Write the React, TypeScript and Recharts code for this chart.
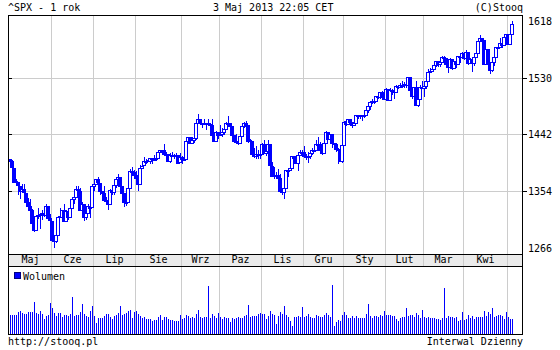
import { Bar, BarChart, CartesianGrid, ComposedChart, XAxis, YAxis } from "recharts";

// ^SPX daily candles, 2 May 2012 .. 3 May 2013 (one row per month)
const OPEN = [
  1405, 1402, 1391, 1368, 1369, 1363, 1355, 1358, 1351, 1338, 1331, 1325, 1306, 1295, 1316, 1317, 1319, 1321, 1318, 1331, 1313,
  1309, 1278, 1277, 1286, 1316, 1314, 1326, 1309, 1324, 1315, 1329, 1342, 1345, 1358, 1355, 1326, 1334, 1314, 1320, 1331, 1330,
  1362, 1366, 1374, 1367, 1355, 1352, 1341, 1341, 1335, 1357, 1354, 1364, 1373, 1376, 1363, 1351, 1338, 1338, 1360, 1386, 1385,
  1380, 1375, 1366, 1391, 1395, 1401, 1402, 1402, 1406, 1404, 1404, 1406, 1416, 1418, 1418, 1413, 1413, 1402, 1411, 1410, 1409, 1410, 1400,
  1407, 1405, 1404, 1432, 1438, 1429, 1434, 1437, 1460, 1466, 1461, 1459, 1461, 1461, 1459, 1457, 1442, 1433, 1447,
  1441, 1444, 1446, 1451, 1461, 1461, 1456, 1441, 1433, 1433, 1429, 1440, 1455, 1461, 1457, 1433, 1433, 1413, 1409, 1413, 1410,
  1412, 1428, 1414, 1417, 1428, 1394, 1378, 1380, 1380, 1375, 1355, 1353, 1360, 1387, 1388, 1391, 1409, 1406, 1399, 1410, 1416,
  1416, 1409, 1407, 1409, 1414, 1418, 1419, 1428, 1428, 1419, 1414, 1430, 1447, 1436, 1444, 1430, 1427, 1420, 1418, 1402,
  1426, 1463, 1459, 1466, 1462, 1457, 1461, 1472, 1472, 1471, 1472, 1473, 1481, 1486, 1493, 1495, 1495, 1503, 1500, 1508, 1502,
  1498, 1513, 1496, 1511, 1512, 1509, 1518, 1517, 1519, 1520, 1521, 1520, 1531, 1512, 1502, 1516, 1488, 1497, 1516,
  1515, 1518, 1525, 1540, 1541, 1544, 1551, 1556, 1552, 1555, 1563, 1561, 1552, 1548, 1559, 1546, 1557, 1552, 1564, 1563,
  1569, 1562, 1570, 1554, 1560, 1553, 1563, 1569, 1588, 1593, 1589, 1552, 1575, 1552, 1542, 1555, 1563, 1579, 1579, 1585, 1582, 1594,
  1598, 1583, 1598,
];
const HIGH = [
  1405, 1403, 1391, 1374, 1369, 1363, 1365, 1366, 1351, 1344, 1343, 1327, 1312, 1316, 1328, 1320, 1325, 1324, 1335, 1331, 1319,
  1309, 1282, 1287, 1316, 1329, 1326, 1335, 1325, 1327, 1333, 1343, 1348, 1363, 1362, 1359, 1337, 1334, 1324, 1334, 1331, 1362,
  1367, 1374, 1376, 1367, 1355, 1362, 1346, 1341, 1358, 1357, 1366, 1375, 1381, 1376, 1363, 1352, 1344, 1364, 1389, 1392, 1387,
  1386, 1375, 1395, 1399, 1408, 1404, 1406, 1406, 1406, 1411, 1407, 1417, 1419, 1418, 1427, 1416, 1413, 1414, 1416, 1413, 1414, 1410, 1414,
  1409, 1409, 1433, 1438, 1438, 1438, 1438, 1464, 1475, 1466, 1461, 1466, 1461, 1467, 1460, 1466, 1442, 1448, 1447,
  1458, 1452, 1454, 1462, 1471, 1461, 1456, 1442, 1444, 1439, 1441, 1456, 1462, 1464, 1457, 1435, 1433, 1421, 1425, 1418, 1418,
  1429, 1434, 1420, 1434, 1428, 1400, 1392, 1385, 1389, 1381, 1360, 1363, 1387, 1390, 1392, 1409, 1409, 1409, 1410, 1419, 1419,
  1424, 1413, 1415, 1414, 1421, 1421, 1434, 1439, 1431, 1419, 1431, 1448, 1447, 1444, 1444, 1430, 1429, 1422, 1418, 1426,
  1463, 1465, 1467, 1466, 1462, 1465, 1472, 1473, 1472, 1473, 1474, 1484, 1486, 1493, 1497, 1502, 1503, 1504, 1509, 1510, 1504,
  1514, 1513, 1514, 1513, 1512, 1519, 1518, 1522, 1525, 1524, 1525, 1531, 1531, 1512, 1516, 1525, 1499, 1520, 1525,
  1520, 1525, 1544, 1545, 1546, 1553, 1557, 1556, 1556, 1564, 1564, 1561, 1558, 1561, 1559, 1557, 1564, 1564, 1564, 1570,
  1570, 1573, 1571, 1562, 1560, 1563, 1573, 1589, 1597, 1593, 1589, 1575, 1575, 1554, 1556, 1565, 1579, 1584, 1592, 1585, 1596, 1598,
  1598, 1598, 1618,
];
const LOW = [
  1394, 1389, 1367, 1363, 1348, 1343, 1355, 1352, 1336, 1328, 1324, 1305, 1291, 1295, 1311, 1296, 1310, 1315, 1318, 1310, 1298,
  1277, 1267, 1274, 1286, 1314, 1307, 1307, 1307, 1310, 1313, 1329, 1335, 1345, 1345, 1324, 1325, 1309, 1310, 1320, 1313, 1330,
  1355, 1364, 1364, 1348, 1346, 1338, 1334, 1326, 1335, 1349, 1348, 1359, 1371, 1362, 1338, 1330, 1332, 1338, 1360, 1381, 1379,
  1373, 1355, 1366, 1391, 1395, 1396, 1401, 1397, 1397, 1401, 1402, 1404, 1414, 1413, 1410, 1406, 1400, 1398, 1409, 1404, 1406, 1397, 1398,
  1397, 1401, 1404, 1430, 1429, 1429, 1430, 1434, 1460, 1457, 1453, 1458, 1450, 1459, 1452, 1441, 1431, 1433, 1436,
  1441, 1438, 1441, 1451, 1458, 1451, 1441, 1430, 1432, 1426, 1427, 1440, 1453, 1452, 1430, 1422, 1408, 1406, 1405, 1404, 1405,
  1412, 1414, 1409, 1417, 1388, 1377, 1374, 1378, 1371, 1353, 1348, 1343, 1360, 1377, 1387, 1391, 1398, 1398, 1386, 1410, 1412,
  1409, 1403, 1399, 1404, 1411, 1415, 1419, 1425, 1416, 1411, 1414, 1430, 1435, 1433, 1422, 1425, 1415, 1396, 1401, 1398,
  1426, 1456, 1458, 1456, 1452, 1457, 1461, 1467, 1466, 1464, 1468, 1473, 1476, 1480, 1490, 1490, 1495, 1497, 1498, 1500, 1496,
  1498, 1495, 1496, 1504, 1498, 1509, 1513, 1515, 1515, 1514, 1514, 1520, 1512, 1498, 1502, 1488, 1485, 1497, 1514,
  1501, 1513, 1525, 1539, 1540, 1544, 1548, 1547, 1548, 1555, 1557, 1545, 1538, 1548, 1543, 1546, 1546, 1552, 1553, 1562,
  1558, 1562, 1550, 1552, 1539, 1549, 1561, 1569, 1586, 1580, 1552, 1552, 1543, 1537, 1540, 1549, 1563, 1575, 1579, 1576, 1582, 1587,
  1581, 1583, 1598,
];
const CLOSE = [
  1402, 1392, 1369, 1370, 1364, 1355, 1358, 1353, 1338, 1331, 1325, 1305, 1295, 1316, 1317, 1319, 1321, 1318, 1332, 1313, 1310,
  1278, 1278, 1286, 1315, 1315, 1326, 1309, 1324, 1315, 1329, 1343, 1345, 1358, 1356, 1326, 1335, 1314, 1320, 1332, 1329, 1362,
  1366, 1374, 1368, 1355, 1352, 1341, 1341, 1335, 1357, 1354, 1364, 1373, 1377, 1363, 1351, 1338, 1338, 1360, 1386, 1385, 1379,
  1375, 1365, 1391, 1394, 1401, 1402, 1403, 1406, 1404, 1404, 1406, 1416, 1418, 1418, 1413, 1413, 1402, 1411, 1410, 1409, 1410, 1399, 1407,
  1405, 1403, 1432, 1438, 1429, 1434, 1437, 1460, 1466, 1461, 1459, 1461, 1460, 1460, 1457, 1442, 1433, 1447, 1441,
  1444, 1446, 1451, 1461, 1461, 1456, 1441, 1433, 1433, 1429, 1440, 1455, 1461, 1457, 1433, 1434, 1413, 1409, 1413, 1412, 1412,
  1428, 1414, 1417, 1428, 1395, 1378, 1380, 1380, 1375, 1355, 1353, 1360, 1387, 1388, 1391, 1409, 1406, 1399, 1410, 1416, 1416,
  1409, 1407, 1409, 1414, 1418, 1419, 1428, 1428, 1419, 1414, 1430, 1447, 1436, 1444, 1430, 1427, 1420, 1418, 1402, 1426,
  1462, 1459, 1466, 1462, 1457, 1461, 1472, 1472, 1471, 1472, 1473, 1481, 1486, 1493, 1495, 1495, 1503, 1500, 1508, 1502, 1498,
  1513, 1496, 1511, 1512, 1509, 1518, 1517, 1519, 1520, 1521, 1520, 1531, 1512, 1502, 1516, 1488, 1497, 1516, 1515,
  1518, 1525, 1540, 1541, 1544, 1551, 1556, 1552, 1555, 1563, 1561, 1552, 1548, 1559, 1546, 1557, 1552, 1564, 1563, 1569,
  1562, 1570, 1554, 1560, 1553, 1563, 1569, 1588, 1593, 1589, 1552, 1575, 1552, 1542, 1555, 1563, 1579, 1579, 1585, 1582, 1594, 1598,
  1583, 1598, 1614,
];
// volume, mln
const VOLUME = [
  570, 570, 570, 570, 660, 690, 630, 600, 600, 660, 660,
  660, 960, 630, 600, 690, 600, 450, 540, 570, 930,
  780, 630, 540, 630, 630, 510, 570, 570, 540, 600,
  1110, 540, 570, 570, 660, 900, 600, 540, 510, 690,
  840, 540, 330, 480, 480, 480, 540, 600, 600, 510,
  450, 540, 570, 630, 840, 570, 600, 630, 690, 720,
  480, 660, 690, 600, 540, 480, 510, 450, 450, 450,
  390, 420, 420, 510, 570, 420, 510, 510, 450, 420,
  420, 390, 390, 390, 570, 450, 480, 570, 540, 480,
  510, 480, 600, 720, 510, 480, 510, 510, 1440, 480,
  600, 540, 480, 630, 510, 450, 510, 480, 480, 360,
  480, 450, 480, 510, 480, 480, 540, 570, 870, 510,
  540, 540, 540, 600, 630, 600, 600,
  450, 540, 690, 600, 570, 300, 540, 660, 600, 840,
  570, 510, 390, 240, 510, 510, 540, 510, 810, 510,
  540, 600, 510, 480, 480, 570, 540, 510, 510, 570,
  630, 570, 510, 1470, 240, 360, 420, 390, 570, 660,
  570, 480, 480, 540, 480, 540, 480, 480, 480, 480,
  600, 900, 540, 480, 540, 540, 510, 570, 540, 690,
  570, 570, 570, 540, 540, 450, 390, 480, 510, 510,
  780, 540, 570, 570, 510, 630, 570, 480, 720, 510,
  480, 510, 480, 480, 480, 450, 450, 420, 480, 1380,
  480, 540, 510, 510, 480, 510, 390, 420, 660, 420,
  450, 570, 480, 540, 450, 510, 510, 510, 510, 690,
  540, 660, 600, 780, 510, 540, 570, 570, 540, 450,
  660, 510, 450, 450,
];

const MONTH_DAYS = [21, 21, 21, 23, 19, 21, 21, 20, 21, 19, 20, 22, 3];
const MONTH_LABELS = ["Maj", "Cze", "Lip", "Sie", "Wrz", "Paz", "Lis", "Gru", "Sty", "Lut", "Mar", "Kwi"];
const PRICE_TICKS = [1618, 1530, 1442, 1354, 1266];
const PRICE_GRID = [1530, 1442, 1354];

const BLUE = "#0000ff";
const GRID = "#cccccc";
const FONT = "'DejaVu Sans Mono', monospace";

const X_DOMAIN = [-1.25, 256.25];
const Y_DOMAIN = [1257, 1628];
const VOL_DOMAIN = [0, 2040];
const LEFT = 8;
const RIGHT = 523;

const monthStart: number[] = [];
MONTH_DAYS.forEach((n, k) => monthStart.push(k === 0 ? 0 : monthStart[k - 1] + MONTH_DAYS[k - 1]));
const MONTH_BOUNDS = monthStart.slice(1).map((s) => s - 0.5);
const MONTH_MIDS = MONTH_LABELS.map((_, k) => monthStart[k] + (MONTH_DAYS[k] - 1) / 2);
const X_TICKS = [...MONTH_MIDS, ...MONTH_BOUNDS].sort((a, b) => a - b);

const data = CLOSE.map((c, i) => ({
  i,
  open: OPEN[i],
  high: HIGH[i],
  low: LOW[i],
  close: c,
  range: [LOW[i], HIGH[i]],
  vol: VOLUME[i],
}));

// hollow body = up day, filled body = down day; 4px wide so neighbours overlap
function Candle(props: any) {
  const { x, y, width, height, payload } = props;
  if (x == null || y == null) return null;
  const top = Math.min(y, y + height);
  const bot = Math.max(y, y + height);
  const span = payload.high - payload.low || 1;
  const toY = (v: number) => top + ((payload.high - v) / span) * (bot - top);
  const cx = Math.floor(x + width / 2) + 0.5;
  const yo = toY(payload.open);
  const yc = toY(payload.close);
  const b0 = Math.round(Math.min(yo, yc)) + 0.5;
  const b1 = Math.round(Math.max(yo, yc)) + 0.5;
  const up = payload.close >= payload.open;
  return (
    <g>
      <line x1={cx} x2={cx} y1={top} y2={bot} stroke={BLUE} />
      {up ? (
        <rect x={cx - 2} y={b0} width={3} height={Math.max(b1 - b0, 1)} fill="#fff" stroke={BLUE} />
      ) : (
        <rect x={cx - 2.5} y={b0 - 0.5} width={4} height={Math.max(b1 - b0 + 1, 2)} fill={BLUE} />
      )}
    </g>
  );
}

function VolBar(props: any) {
  const { x, y, width, height } = props;
  if (x == null || y == null) return null;
  const cx = Math.floor(x + width / 2);
  return <rect x={cx} y={y} width={1} height={height} fill={BLUE} />;
}

function PriceTick(props: any) {
  const { x, y, payload } = props;
  const inner = PRICE_GRID.includes(payload.value);
  return (
    <g>
      {inner && <line x1={LEFT} x2={LEFT + 4} y1={y} y2={y} stroke="#000" />}
      {inner && <line x1={RIGHT} x2={RIGHT + 4} y1={y} y2={y} stroke="#000" />}
      <text x={x} y={y} dy="0.36em" fontFamily={FONT} fontSize={10} fill="#000">
        {payload.value}
      </text>
    </g>
  );
}

function MonthTick(props: any) {
  const { x, y, payload } = props;
  const k = MONTH_MIDS.indexOf(payload.value);
  if (k >= 0) {
    return (
      <text x={x} y={y + 9} textAnchor="middle" fontFamily={FONT} fontSize={10} fill="#000">
        {MONTH_LABELS[k]}
      </text>
    );
  }
  return <line x1={x} x2={x} y1={y} y2={y + 12} stroke={GRID} />;
}

export default function App() {
  return (
    <div style={{ position: "absolute", left: 0, top: 0, width: 560, height: 350, background: "#fff", shapeRendering: "crispEdges" }}>
      <svg width={560} height={350} style={{ position: "absolute", left: 0, top: 0 }}>
        <rect x={LEFT} y={254} width={RIGHT - LEFT} height={12} fill="#ebebeb" />
      </svg>

      <div style={{ position: "absolute", left: 0, top: 0 }}>
        <ComposedChart width={560} height={270} data={data} margin={{ top: 15, right: 0, bottom: 4, left: LEFT }}>
          <CartesianGrid stroke={GRID} horizontalValues={PRICE_GRID} verticalValues={MONTH_BOUNDS} />
          <XAxis
            dataKey="i"
            type="number"
            domain={X_DOMAIN}
            allowDataOverflow
            ticks={X_TICKS}
            interval={0}
            height={12}
            tickSize={0}
            tickMargin={0}
            axisLine={false}
            tickLine={false}
            tick={<MonthTick />}
          />
          <XAxis
            xAxisId="top"
            orientation="top"
            type="number"
            domain={X_DOMAIN}
            allowDataOverflow
            ticks={MONTH_BOUNDS}
            interval={0}
            height={0}
            mirror
            tickSize={4}
            axisLine={false}
            tickLine={{ stroke: "#000" }}
            tick={false}
          />
          <YAxis
            orientation="right"
            width={37}
            domain={Y_DOMAIN}
            allowDataOverflow
            ticks={PRICE_TICKS}
            interval={0}
            tickSize={4}
            tickMargin={1}
            axisLine={false}
            tickLine={false}
            tick={<PriceTick />}
          />
          <Bar dataKey="range" barSize={3} shape={<Candle />} isAnimationActive={false} />
        </ComposedChart>
      </div>

      <div style={{ position: "absolute", left: 0, top: 266 }}>
        <BarChart width={560} height={68} data={data} margin={{ top: 0, right: 37, bottom: 0, left: LEFT }}>
          <CartesianGrid stroke={GRID} horizontal={false} verticalValues={MONTH_BOUNDS} />
          <XAxis dataKey="i" type="number" domain={X_DOMAIN} allowDataOverflow hide />
          <XAxis
            xAxisId="top"
            orientation="top"
            type="number"
            domain={X_DOMAIN}
            allowDataOverflow
            ticks={MONTH_BOUNDS}
            interval={0}
            height={0}
            mirror
            tickSize={4}
            axisLine={false}
            tickLine={{ stroke: "#000" }}
            tick={false}
          />
          <YAxis hide domain={VOL_DOMAIN} />
          <Bar dataKey="vol" barSize={1} shape={<VolBar />} isAnimationActive={false} />
        </BarChart>
      </div>

      <svg width={560} height={350} style={{ position: "absolute", left: 0, top: 0, pointerEvents: "none" }}>
        <rect x={LEFT + 0.5} y={15.5} width={RIGHT - LEFT - 1} height={319} fill="none" stroke="#000" />
        <line x1={LEFT} x2={RIGHT} y1={254.5} y2={254.5} stroke="#000" />
        <line x1={LEFT} x2={RIGHT} y1={266.5} y2={266.5} stroke="#000" />
        <rect x={14.5} y={272.5} width={6} height={6} fill={BLUE} stroke="#000080" />
        <g fontFamily={FONT} fontSize={10} fill="#000">
          <text x={23} y={279.5}>Wolumen</text>
          <text x={8} y={11}>^SPX - 1 rok</text>
          <text x={213} y={11}>3 Maj 2013 22:05 CET</text>
          <text x={RIGHT} y={11} textAnchor="end">(C)Stooq</text>
          <text x={8} y={345}>http://stooq.pl</text>
          <text x={RIGHT} y={345} textAnchor="end">Interwal Dzienny</text>
        </g>
      </svg>
    </div>
  );
}
